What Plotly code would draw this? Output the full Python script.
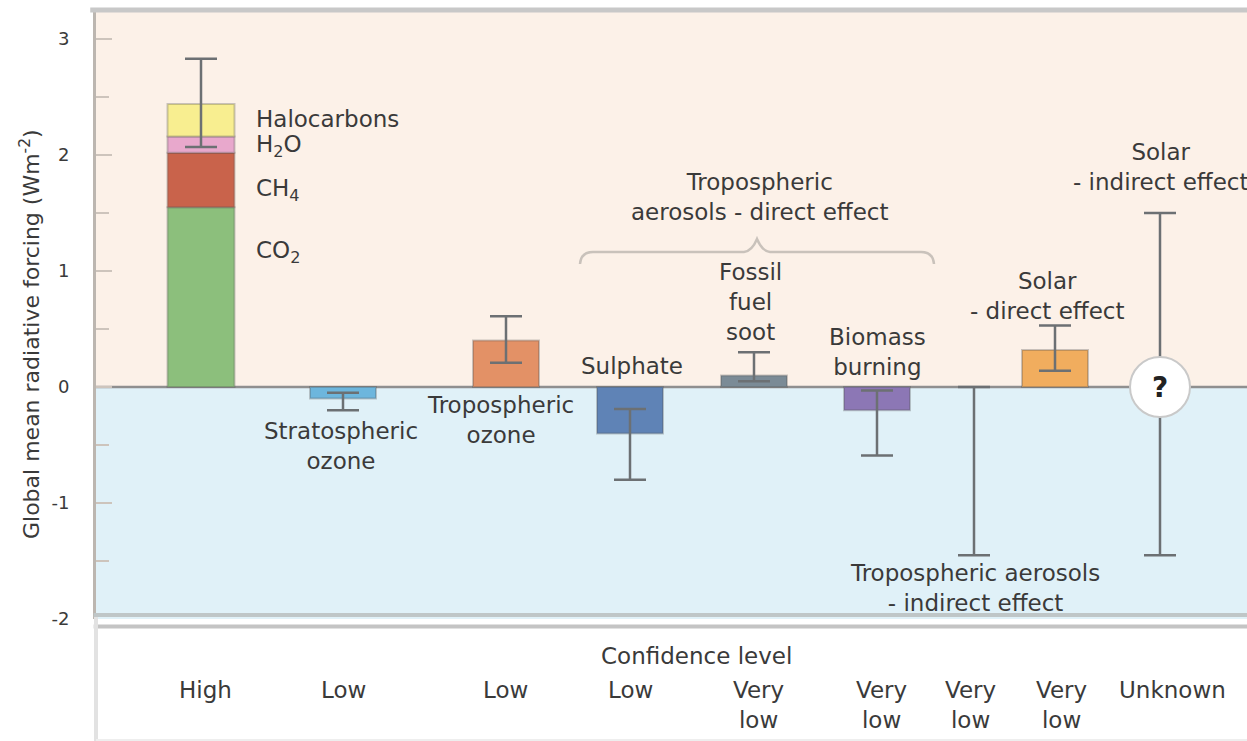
import numpy as np
import plotly.graph_objects as go

# values (W m-2)
ghg_parts = ["CO<sub>2</sub>", "CH<sub>4</sub>", "H<sub>2</sub>O", "Halocarbons"]
ghg_values = [1.55, 0.47, 0.14, 0.28]
ghg_colors = ["#8cbf7c", "#c9634b", "#e8a8cc", "#f8ee90"]

forcings = ["Stratospheric<br>ozone", "Tropospheric<br>ozone", "Sulphate",
            "Fossil<br>fuel<br>soot", "Biomass<br>burning",
            "Tropospheric aerosols<br>- indirect effect",
            "Solar<br>- direct effect", "Solar<br>- indirect effect"]
forcing_values = [-0.10, 0.40, -0.40, 0.10, -0.20, None, 0.32, None]
forcing_colors = ["#6db6dd", "#e39166", "#5f83b6", "#7b8b96", "#8c77b5",
                  None, "#f1ad5e", None]

# uncertainty ranges: greenhouse gases first, then the forcings above
err_low = [2.07, -0.20, 0.21, -0.80, 0.05, -0.59, -1.45, 0.14, -1.45]
err_high = [2.83, -0.05, 0.61, -0.19, 0.30, -0.03, 0.00, 0.53, 1.50]

confidence = ["High", "Low", "Low", "Low", "Very<br>low", "Very<br>low",
              "Very<br>low", "Very<br>low", "Unknown"]

y_ticks = [-2, -1, 0, 1, 2, 3]
y_tick_text = ["-2", "-1", "0", "1", "2", "3"]
y_minor = [-1.5, -0.5, 0.5, 1.5, 2.5]

# layout positions (x in units of 100 px from the axis)
x_pos = [1.05, 2.47, 4.10, 5.34, 6.58, 7.81, 8.78, 9.59, 10.64]
conf_x = [1.09, 2.47, 4.09, 5.34, 6.62, 7.85, 8.74, 9.65, 10.76]

W, H = 1247, 741
ML, MT = 96, 12
Y_TOP, Y_BOT = 12, 619
Y_MAX, Y_MIN = 3.233, -2.0
FONT = "DejaVu Sans"
TXT = "#3a3a3a"
FS = 23


def fx(px):
    return (px - ML) / 100.0


def fy(py):
    return Y_MAX - (py - Y_TOP) * (Y_MAX - Y_MIN) / (Y_BOT - Y_TOP)


def py_paper(py):
    return (H - py) / (H - MT)


fig = go.Figure()

# greenhouse gas stack
ghg_base = np.concatenate([[0], np.cumsum(ghg_values)[:-1]])
fig.add_trace(go.Bar(
    x=[x_pos[0]] * len(ghg_values), y=ghg_values, base=ghg_base,
    width=0.67, marker=dict(color=ghg_colors, line=dict(color="rgba(80,80,80,0.3)", width=2)),
    showlegend=False, hoverinfo="skip"))

# single bars
bx, by, bc = [], [], []
for i, v in enumerate(forcing_values):
    if v is not None:
        bx.append(x_pos[i + 1])
        by.append(v)
        bc.append(forcing_colors[i])
fig.add_trace(go.Bar(
    x=bx, y=by, base=0, width=0.66,
    marker=dict(color=bc, line=dict(color="rgba(80,80,80,0.3)", width=2)),
    showlegend=False, hoverinfo="skip"))

# uncertainty bars
lo = np.array(err_low)
hi = np.array(err_high)
fig.add_trace(go.Scatter(
    x=x_pos, y=lo, mode="markers", marker=dict(size=1, opacity=0),
    error_y=dict(type="data", symmetric=False, array=hi - lo,
                 arrayminus=np.zeros(len(lo)), width=16, thickness=2.5,
                 color="#6c7073"),
    showlegend=False, hoverinfo="skip"))

shapes = [
    dict(type="rect", xref="paper", yref="y", x0=0, x1=1, y0=0, y1=Y_MAX,
         fillcolor="#fcf1e8", line_width=0, layer="below"),
    dict(type="rect", xref="paper", yref="y", x0=0, x1=1, y0=Y_MIN, y1=0,
         fillcolor="#e0f1f8", line_width=0, layer="below"),
    dict(type="line", xref="paper", yref="y", x0=0, x1=1, y0=0, y1=0,
         line=dict(color="#8f8f8f", width=2.5), layer="below"),
    # frame
    dict(type="line", xref="paper", yref="paper", x0=-0.005, x1=1,
         y0=py_paper(10), y1=py_paper(10), line=dict(color="#c8c8c8", width=5)),
    dict(type="line", xref="paper", yref="paper", x0=-0.002, x1=1,
         y0=py_paper(615), y1=py_paper(615), line=dict(color="#bfc6c7", width=4)),
    dict(type="line", xref="paper", yref="paper", x0=-0.002, x1=1,
         y0=py_paper(626.5), y1=py_paper(626.5), line=dict(color="#c4c4c4", width=4)),
    dict(type="line", xref="paper", yref="paper", x0=0, x1=0,
         y0=0, y1=py_paper(617), line=dict(color="#e2e2e2", width=4)),
    dict(type="line", xref="paper", yref="paper", x0=0, x1=1,
         y0=py_paper(740), y1=py_paper(740), line=dict(color="#eeeeee", width=2)),
    # brace over the direct aerosol bars
    dict(type="path", xref="x", yref="y",
         path=(f"M {fx(580)},{fy(264)} Q {fx(581)},{fy(252)} {fx(593)},{fy(252)} "
               f"L {fx(744)},{fy(252)} Q {fx(752)},{fy(251)} {fx(757)},{fy(239)} "
               f"Q {fx(762)},{fy(251)} {fx(770)},{fy(252)} L {fx(921)},{fy(252)} "
               f"Q {fx(933)},{fy(252)} {fx(934)},{fy(264)}"),
         line=dict(color="#c9c2bb", width=2.5)),
    # unknown marker
    dict(type="circle", xref="x", yref="y", xsizemode="pixel", ysizemode="pixel",
         xanchor=x_pos[-1], yanchor=0, x0=-30, x1=30, y0=-30, y1=30,
         fillcolor="white", line=dict(color="#c9c9c9", width=2), layer="above"),
]

ann = []


def label(text, px, py, anchor="center", size=FS):
    ann.append(dict(text=text, x=fx(px), y=fy(py), xref="x", yref="y",
                    xanchor=anchor, yanchor="middle", showarrow=False,
                    align="center", font=dict(family=FONT, size=size, color=TXT)))


label(ghg_parts[3], 254, 119, "left")
label(ghg_parts[2], 254, 146, "left")
label(ghg_parts[1], 254, 190, "left")
label(ghg_parts[0], 254, 252, "left")
label(forcings[0], 341, 446)
label(forcings[1], 500, 420)
label(forcings[2], 632, 366)
label(forcings[3], 750, 302)
label(forcings[4], 877, 352)
label("Tropospheric<br>aerosols - direct effect", 760, 197)
label(forcings[5], 975, 588)
label(forcings[6], 1047, 296)
label(forcings[7], 1160, 167)

ann.append(dict(text="<b>?</b>", x=x_pos[-1], y=0, xref="x", yref="y",
                xanchor="center", yanchor="middle", showarrow=False,
                font=dict(family=FONT, size=28, color="#222222")))

# y axis title
ann.append(dict(text="Global mean radiative forcing (Wm<sup>-2</sup>)",
                x=(30 - ML) / (W - ML), y=py_paper(334), xref="paper", yref="paper",
                xanchor="center", yanchor="middle", textangle=-90, showarrow=False,
                font=dict(family=FONT, size=22, color=TXT)))

# confidence panel
ann.append(dict(text="Confidence level", x=fx(696), y=py_paper(656),
                xref="x", yref="paper", xanchor="center", yanchor="middle",
                showarrow=False, font=dict(family=FONT, size=FS, color=TXT)))
for cx, c in zip(conf_x, confidence):
    ann.append(dict(text=c, x=cx, y=py_paper(675), xref="x", yref="paper",
                    xanchor="center", yanchor="top", showarrow=False, align="center",
                    font=dict(family=FONT, size=FS, color=TXT)))

fig.update_layout(
    width=W, height=H,
    margin=dict(l=ML, r=0, t=MT, b=0, autoexpand=False),
    paper_bgcolor="white", plot_bgcolor="white",
    barmode="overlay",
    xaxis=dict(range=[0, (W - ML) / 100.0], visible=False, fixedrange=True,
               automargin=False),
    yaxis=dict(domain=[py_paper(Y_BOT), 1], range=[Y_MIN, Y_MAX],
               tickmode="array", tickvals=y_ticks, ticktext=y_tick_text,
               ticks="inside", ticklen=16, tickwidth=2, tickcolor="#cdc4bc",
               minor=dict(tickmode="array", tickvals=y_minor, ticks="inside",
                          ticklen=13, tickwidth=2, tickcolor="#cdc4bc",
                          showgrid=False),
               showline=True, linecolor="#bcb6b0", linewidth=3,
               showgrid=False, zeroline=False, ticklabelstandoff=20,
               automargin=False,
               tickfont=dict(family=FONT, size=18, color=TXT)),
    shapes=shapes, annotations=ann,
)

# the page's default body margin would shift the figure by 8 px
fig.write_html("out.html", config={"displayModeBar": False},
               post_script="document.body.style.margin='0px';")
